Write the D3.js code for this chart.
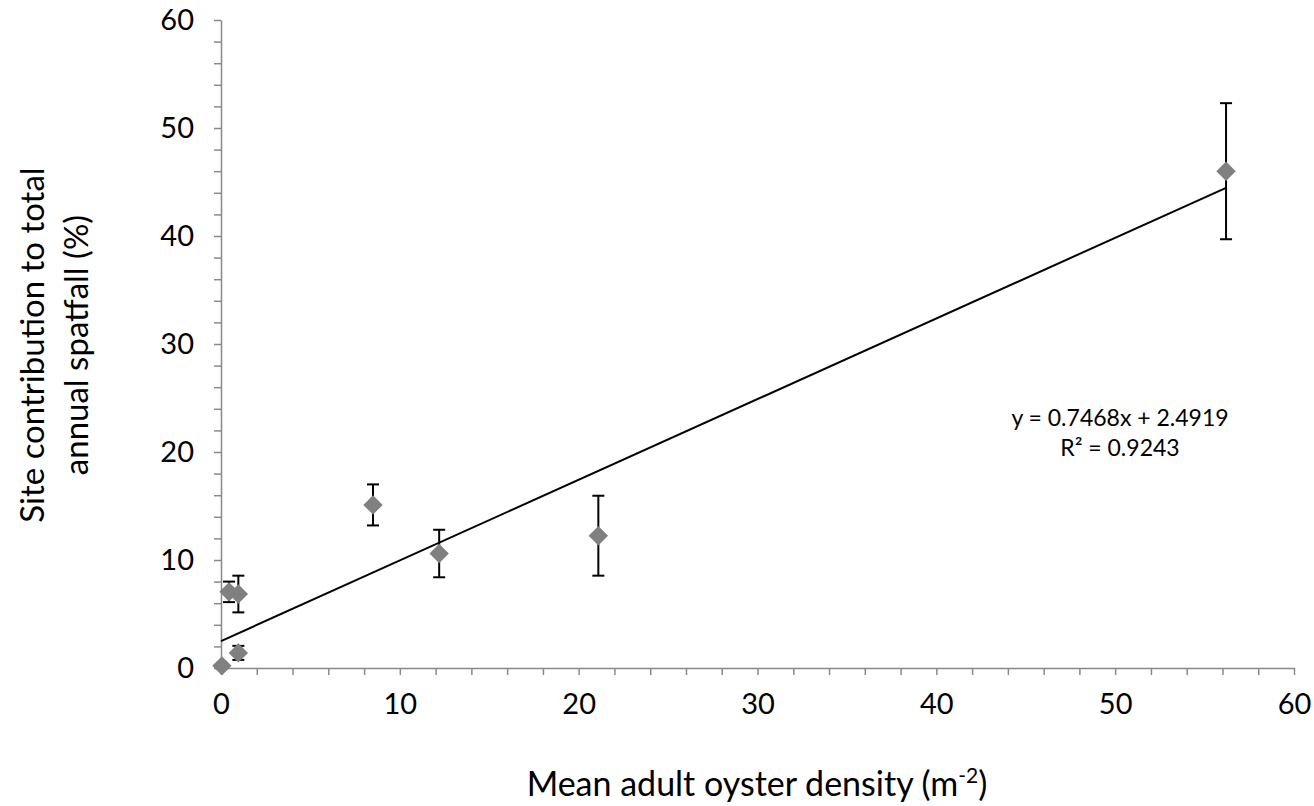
<!DOCTYPE html>
<html>
<head>
<meta charset="utf-8">
<script src="https://cdn.jsdelivr.net/npm/d3@7"></script>
<style>
  body { margin: 0; background: #fff; }
  svg text { font-family: Lato, "Open Sans", sans-serif; fill: #000; }
  .axis path, .axis line { stroke: #898989; stroke-width: 1.5; }
  .trend { stroke: #000; stroke-width: 2; fill: none; }
  .err { stroke: #000; stroke-width: 2; }
  .dot { fill: #808080; }
</style>
</head>
<body>
<div id="chart"></div>
<script>
// values
var density = [56.2, 21.1, 12.2, 8.5, 0.45, 0.97, 0.97, 0.05];
var contribution = [46.0, 12.25, 10.6, 15.1, 7.05, 6.85, 1.4, 0.2];
var stdErr = [6.3, 3.7, 2.2, 1.9, 0.95, 1.7, 0.65, 0.1];

var xTicks = [0, 10, 20, 30, 40, 50, 60];
var yTicks = [0, 10, 20, 30, 40, 50, 60];
var minorStep = 2;

var slope = 0.7468, intercept = 2.4919, rSquared = 0.9243;

var points = density.map(function (d, i) {
    return {x: d, y: contribution[i], e: stdErr[i]};
});

var svg = d3.select("#chart").append("svg")
    .attr("width", 1314)
    .attr("height", 806);

var x = d3.scaleLinear().domain([0, 60]).range([221, 1294]);
var y = d3.scaleLinear().domain([0, 60]).range([668, 20]);

var minor = d3.range(0, 60 + minorStep, minorStep);

// X axis (minor ticks carry no labels)
svg.append("g")
    .attr("class", "axis")
    .attr("transform", "translate(0," + y(0) + ")")
    .call(d3.axisBottom(x).tickValues(minor).tickSize(7).tickSizeOuter(0)
        .tickFormat(function (d) { return xTicks.indexOf(d) >= 0 ? d : ""; }))
    .call(function (g) {
        g.selectAll("text").attr("dy", null).attr("y", 46)
            .style("font-size", "29px").style("font-family", "Lato, sans-serif");
    });

// Y axis
svg.append("g")
    .attr("class", "axis")
    .attr("transform", "translate(" + x(0) + ",0)")
    .call(d3.axisLeft(y).tickValues(minor).tickSize(7).tickSizeOuter(0)
        .tickFormat(function (d) { return yTicks.indexOf(d) >= 0 ? d : ""; }))
    .call(function (g) {
        g.selectAll("text").attr("x", -27)
            .style("font-size", "29px").style("font-family", "Lato, sans-serif");
    });

// trend line
var line = d3.line()
    .x(function (d) { return x(d); })
    .y(function (d) { return y(slope * d + intercept); });
svg.append("path")
    .attr("class", "trend")
    .attr("d", line([0, d3.max(density)]));

// error bars
var bars = svg.selectAll(".errbar").data(points).enter().append("g")
    .attr("class", "errbar");
bars.append("line").attr("class", "err")
    .attr("x1", function (d) { return x(d.x); })
    .attr("x2", function (d) { return x(d.x); })
    .attr("y1", function (d) { return y(d.y - d.e); })
    .attr("y2", function (d) { return y(d.y + d.e); });
[-1, 1].forEach(function (s) {
    bars.append("line").attr("class", "err")
        .attr("x1", function (d) { return x(d.x) - 6; })
        .attr("x2", function (d) { return x(d.x) + 6; })
        .attr("y1", function (d) { return y(d.y + s * d.e); })
        .attr("y2", function (d) { return y(d.y + s * d.e); });
});

// diamonds
var diamond = d3.symbol().type(d3.symbolDiamond2).size(240);
svg.selectAll(".dot").data(points).enter().append("path")
    .attr("class", "dot")
    .attr("d", diamond)
    .attr("transform", function (d) {
        return "translate(" + x(d.x) + "," + y(d.y) + ")";
    });

// equation
var eq = svg.append("text")
    .attr("text-anchor", "middle")
    .style("font-size", "23px");
eq.append("tspan").attr("x", 1120).attr("y", 426)
    .text("y = " + slope + "x + " + intercept);
eq.append("tspan").attr("x", 1120).attr("y", 456)
    .text("R\u00b2 = " + rSquared);

// axis titles
var xt = svg.append("text")
    .attr("x", 757).attr("y", 796)
    .attr("text-anchor", "middle")
    .style("font-size", "34px");
xt.append("tspan").text("Mean adult oyster density (m");
xt.append("tspan").attr("dy", -13).style("font-size", "21px").text("-2");
xt.append("tspan").attr("dy", 13).text(")");

var yt = svg.append("text")
    .attr("transform", "translate(0,345) rotate(-90)")
    .attr("text-anchor", "middle")
    .style("font-size", "33px");
yt.append("tspan").attr("x", 0).attr("y", 44).text("Site contribution to total");
yt.append("tspan").attr("x", 0).attr("y", 88).text("annual spatfall (%)");
</script>
</body>
</html>
